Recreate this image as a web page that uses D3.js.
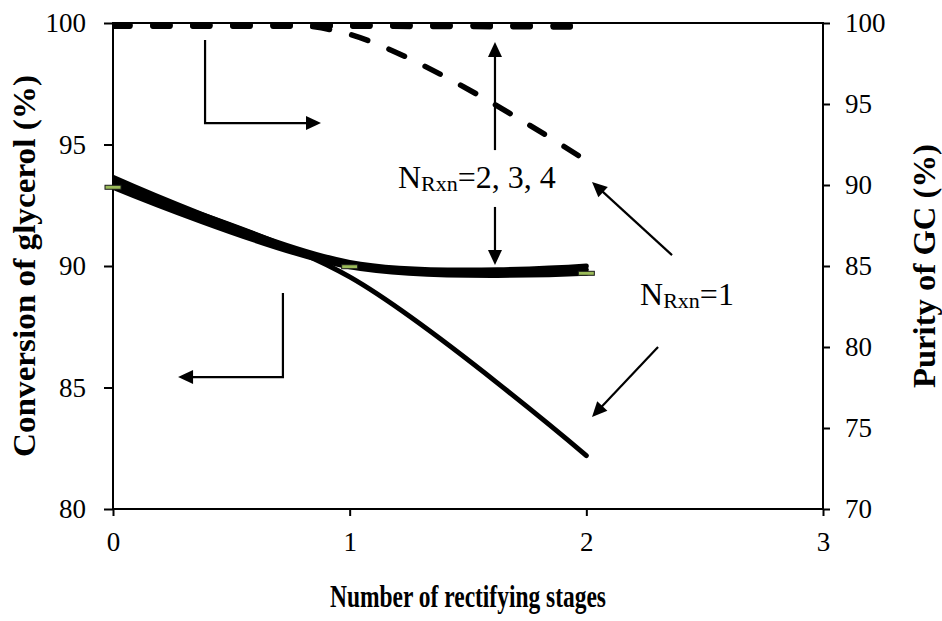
<!DOCTYPE html>
<html>
<head>
<meta charset="utf-8">
<script src="https://cdn.jsdelivr.net/npm/d3@7"></script>
<style>
  html, body { margin: 0; padding: 0; background: #fff; }
  svg { display: block; font-family: "Liberation Serif", "Times New Roman", serif; }
</style>
</head>
<body>
<svg id="chart" width="942" height="621"></svg>
<script>
"use strict";

// rectifying stages
var stages = [0, 1, 2];

// conversion of glycerol (%), left axis, solid lines
var conv1 = [93.3, 89.55, 82.2];
var conv2 = [93.65, 90.15, 90.0];
var conv3 = [93.45, 90.05, 89.85];
var conv4 = [93.24, 89.97, 89.7];

// purity of GC (%), right axis, dashed lines
var pur1 = [100.0, 99.3, 91.5];
var pur2 = [99.9, 99.9, 99.85];
var pur3 = [99.85, 99.85, 99.8];
var pur4 = [99.8, 99.8, 99.75];

var xTicks = [0, 1, 2, 3];
var leftTicks = [80, 85, 90, 95, 100];
var rightTicks = [70, 75, 80, 85, 90, 95, 100];

var margin = { left: 113, right: 823, top: 23, bottom: 509 };

var svg = d3.select("#chart");

var x = d3.scaleLinear().domain([0, 3]).range([margin.left, margin.right]);
var yL = d3.scaleLinear().domain([80, 100]).range([margin.bottom, margin.top]);
var yR = d3.scaleLinear().domain([70, 100]).range([margin.bottom, margin.top]);

svg.append("defs").append("clipPath")
  .attr("id", "plot-clip")
  .append("rect")
  .attr("x", margin.left)
  .attr("y", margin.top)
  .attr("width", margin.right - margin.left)
  .attr("height", margin.bottom - margin.top);

function zip(vals) {
  return stages.map(function (s, i) { return [s, vals[i]]; });
}

var plot = svg.append("g").attr("clip-path", "url(#plot-clip)");

var lineL = d3.line()
  .x(function (d) { return x(d[0]); })
  .y(function (d) { return yL(d[1]); })
  .curve(d3.curveCardinal.tension(0));

var lineR = d3.line()
  .x(function (d) { return x(d[0]); })
  .y(function (d) { return yR(d[1]); })
  .curve(d3.curveCardinal.tension(0));

// dashed purity lines
[pur4, pur3, pur2, pur1].forEach(function (p) {
  plot.append("path")
    .datum(zip(p))
    .attr("d", lineR)
    .attr("fill", "none")
    .attr("stroke", "#000")
    .attr("stroke-width", 5.5)
    .attr("stroke-linecap", "round")
    .attr("stroke-dasharray", "17,23");
});

// solid conversion lines
[conv1, conv2, conv3, conv4].forEach(function (c) {
  plot.append("path")
    .datum(zip(c))
    .attr("d", lineL)
    .attr("fill", "none")
    .attr("stroke", "#000")
    .attr("stroke-width", 5)
    .attr("stroke-linecap", "round");
});

// axes
var axisW = 2;

svg.append("rect")
  .attr("x", margin.left)
  .attr("y", margin.top)
  .attr("width", margin.right - margin.left)
  .attr("height", margin.bottom - margin.top)
  .attr("fill", "none")
  .attr("stroke", "#000")
  .attr("stroke-width", axisW);

var gx = svg.append("g")
  .attr("transform", "translate(0," + margin.bottom + ")")
  .call(d3.axisBottom(x).tickValues(xTicks).tickSize(7).tickPadding(15).tickFormat(d3.format("d")));

var gl = svg.append("g")
  .attr("transform", "translate(" + margin.left + ",0)")
  .call(d3.axisLeft(yL).tickValues(leftTicks).tickSize(9).tickPadding(18));

var gr = svg.append("g")
  .attr("transform", "translate(" + margin.right + ",0)")
  .call(d3.axisRight(yR).tickValues(rightTicks).tickSize(7).tickPadding(15));

[gx, gl, gr].forEach(function (g) {
  g.select(".domain").remove();
  g.selectAll(".tick line").attr("stroke", "#000").attr("stroke-width", axisW);
  g.selectAll(".tick text")
    .attr("fill", "#000")
    .style("font-size", "27px")
    .style("font-family", "'Liberation Serif', 'Times New Roman', serif");
});
gl.selectAll(".tick text").attr("dy", "0.33em");
gr.selectAll(".tick text").attr("dy", "0.33em");
gx.selectAll(".tick text").attr("dy", "0.75em");

// markers on one of the series
svg.append("g").selectAll("rect")
  .data(zip(conv4))
  .enter().append("rect")
  .attr("x", function (d) { return x(d[0]) - 8; })
  .attr("y", function (d) { return yL(d[1]) - 2; })
  .attr("width", 16)
  .attr("height", 4)
  .attr("fill", "#9bbb59")
  .attr("stroke", "#1a1a1a")
  .attr("stroke-width", 1);

// axis titles
var midY = (margin.top + margin.bottom) / 2;

svg.append("text")
  .attr("x", 468 - 138)
  .attr("y", 607)
  .attr("textLength", 276)
  .attr("lengthAdjust", "spacingAndGlyphs")
  .style("font-size", "31px")
  .style("font-weight", "bold")
  .text("Number of rectifying stages");

svg.append("text")
  .attr("transform", "translate(35," + (midY + 191) + ") rotate(-90)")
  .attr("textLength", 382)
  .attr("lengthAdjust", "spacingAndGlyphs")
  .style("font-size", "32px")
  .style("font-weight", "bold")
  .text("Conversion of glycerol (%)");

svg.append("text")
  .attr("transform", "translate(935," + (midY + 122) + ") rotate(-90)")
  .attr("textLength", 244)
  .attr("lengthAdjust", "spacingAndGlyphs")
  .style("font-size", "32px")
  .style("font-weight", "bold")
  .text("Purity of GC (%)");

// annotation arrows, in stage / left-axis units
var arrows = [
  [[0.389, 99.3], [0.389, 95.88], [0.879, 95.88]],
  [[0.718, 88.89], [0.718, 85.43], [0.275, 85.43]],
  [[1.614, 94.77], [1.614, 99.22]],
  [[1.614, 92.43], [1.614, 90.04]],
  [[2.362, 90.45], [2.024, 93.46]],
  [[2.303, 86.67], [2.024, 83.79]]
];

var ann = svg.append("g");

arrows.forEach(function (a) {
  var pts = a.map(function (p) { return [x(p[0]), yL(p[1])]; });
  var tip = pts[pts.length - 1];
  var prev = pts[pts.length - 2];
  var ang = Math.atan2(tip[1] - prev[1], tip[0] - prev[0]);
  var len = 15, hw = 7;
  var bx = tip[0] - len * Math.cos(ang), by = tip[1] - len * Math.sin(ang);
  var shaft = pts.slice(0, -1).concat([[bx + Math.cos(ang), by + Math.sin(ang)]]);

  ann.append("path")
    .attr("d", d3.line()(shaft))
    .attr("fill", "none")
    .attr("stroke", "#000")
    .attr("stroke-width", 2.2);

  ann.append("path")
    .attr("d", d3.line()([
      tip,
      [bx + hw * Math.sin(ang), by - hw * Math.cos(ang)],
      [bx - hw * Math.sin(ang), by + hw * Math.cos(ang)]
    ]) + "Z")
    .attr("fill", "#000");
});

// labels
var labels = [
  { x: 1.204, y: 93.21, tail: "=2, 3, 4" },
  { x: 2.227, y: 88.40, tail: "=1" }
];

labels.forEach(function (l) {
  var t = ann.append("text")
    .attr("x", x(l.x))
    .attr("y", yL(l.y))
    .style("font-size", "32px");
  t.append("tspan").text("N");
  t.append("tspan").attr("dy", 3).style("font-size", "22px").text("Rxn");
  t.append("tspan").attr("dy", -3).text(l.tail);
});
</script>
</body>
</html>
